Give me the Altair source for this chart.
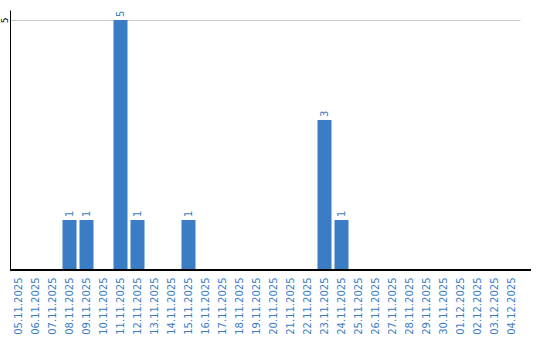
import altair as alt
import pandas as pd

dates = ["05.11.2025", "06.11.2025", "07.11.2025", "08.11.2025", "09.11.2025",
         "10.11.2025", "11.11.2025", "12.11.2025", "13.11.2025", "14.11.2025",
         "15.11.2025", "16.11.2025", "17.11.2025", "18.11.2025", "19.11.2025",
         "20.11.2025", "21.11.2025", "22.11.2025", "23.11.2025", "24.11.2025",
         "25.11.2025", "26.11.2025", "27.11.2025", "28.11.2025", "29.11.2025",
         "30.11.2025", "01.12.2025", "02.12.2025", "03.12.2025", "04.12.2025"]
counts = [0, 0, 0, 1, 1, 0, 5, 1, 0, 0, 1, 0, 0, 0, 0,
          0, 0, 0, 3, 1, 0, 0, 0, 0, 0, 0, 0, 0, 0, 0]
y_ticks = [5]

df = pd.DataFrame({"date": dates, "count": counts})
df["label"] = df["count"].apply(lambda v: str(v) if v > 0 else "")

BLUE = "#3b7dc4"
FONT = "DejaVu Sans"

x_enc = alt.X("date:N", sort=dates,
              scale=alt.Scale(range=[0, 510], paddingInner=0.176, paddingOuter=0.088),
              axis=alt.Axis(title=None, domain=False, ticks=False, labelAngle=-90,
                            labelAlign="right", labelBaseline="middle", labelPadding=7,
                            labelColor=BLUE, labelFont=FONT, labelFontSize=10))
y_enc = alt.Y("count:Q", scale=alt.Scale(domain=[0, 5.2], nice=False),
              axis=alt.Axis(title=None, values=y_ticks, ticks=False, domainColor="black",
                            labelAngle=-90, labelAlign="center", labelBaseline="alphabetic",
                            labelPadding=3, labelColor="black", labelFont=FONT,
                            labelFontSize=9, gridColor="#cccccc"))

base = alt.Chart(df)
bars = base.mark_bar(color=BLUE).encode(x=x_enc, y=y_enc)
texts = base.mark_text(angle=270, align="left", baseline="middle", dx=3,
                       color=BLUE, font=FONT, fontSize=10).encode(
    x=alt.X("date:N", sort=dates), y="count:Q", text="label:N")
baseline = base.mark_rule(color="black", strokeWidth=1).encode(
    y=alt.datum(0), x=alt.value(0), x2=alt.value(521))

chart = alt.layer(bars, texts, baseline).properties(
    width=521, height=260,
    background="white",
    autosize=alt.AutoSizeParams(type="none"),
    padding={"left": 10, "top": 10, "right": 9, "bottom": 70},
).configure_view(stroke=None)

chart.save("out.html", embed_options={"renderer": "svg", "actions": False})
